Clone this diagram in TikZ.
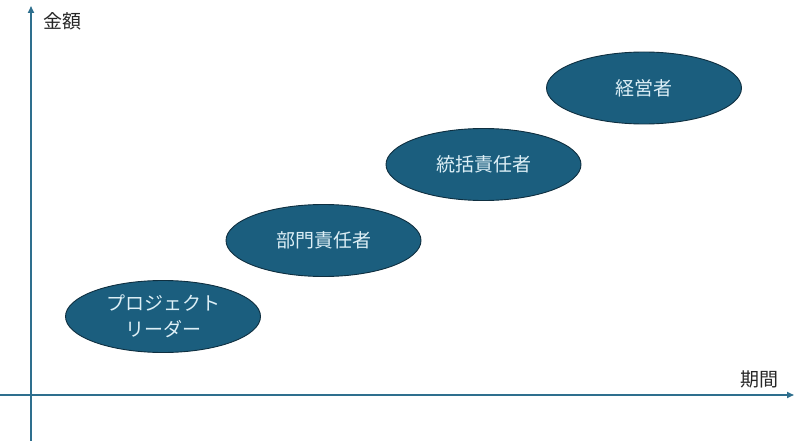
\documentclass[tikz,border=0pt]{standalone}
\usepackage{fontspec}
\setmainfont{Noto Sans CJK JP}
\usetikzlibrary{arrows.meta,shapes.geometric}
\definecolor{axiscol}{HTML}{2E6F8E}
\definecolor{ellfill}{HTML}{1B5E7E}
\definecolor{elldraw}{HTML}{0F2F40}
\definecolor{elltext}{HTML}{DDEFF6}
\begin{document}
\begin{tikzpicture}[x=1pt,y=-1pt,
  axis/.style={draw=axiscol,line width=1.6pt,-{Triangle[length=7pt,width=6pt]}},
  role/.style={ellipse,draw=elldraw,fill=ellfill,line width=0.9pt,minimum width=195pt,minimum height=72pt,inner sep=0pt,text=elltext,font=\fontsize{19}{26}\selectfont,align=center},
  lab/.style={font=\fontsize{19}{23}\selectfont,text=black!85,inner sep=0pt}]
\useasboundingbox (0,0) rectangle (800,441);
\coordinate (ybot) at (31,441);
\coordinate (ytop) at (31,6);
\coordinate (xl) at (0,395);
\coordinate (xr) at (794,395);
\draw[axis] (ybot) -- (ytop);
\draw[axis] (xl) -- (xr);
\node[lab,anchor=west] (jin) at (43,21) {金額};
\node[lab,anchor=east] (kikan) at (779,379) {期間};
\node[role] (pl) at (163,316.5) {プロジェクト\\リーダー};
\node[role] (bumon) at (323.5,240.5) {部門責任者};
\node[role] (tokatsu) at (483.5,164.5) {統括責任者};
\node[role] (keiei) at (644,88) {経営者};
\end{tikzpicture}
\end{document}
